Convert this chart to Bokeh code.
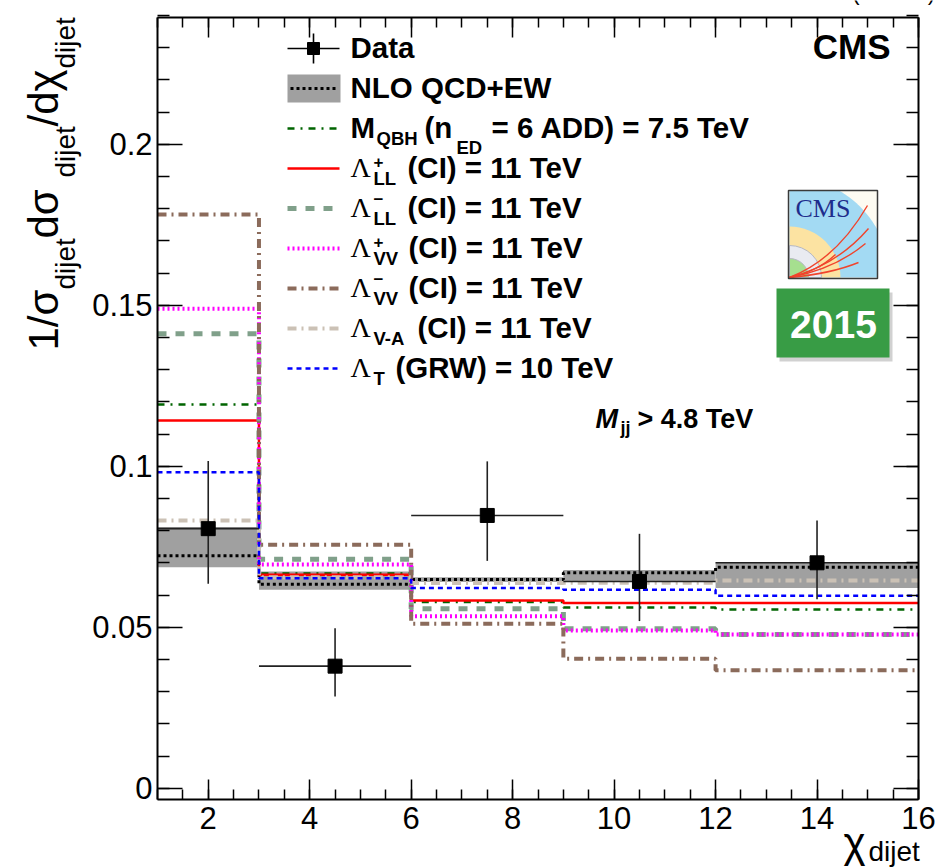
import numpy as np
from math import pi
from bokeh.plotting import figure
from bokeh.models import Range1d, FixedTicker, LinearAxis, Label
from bokeh.embed import file_html
from bokeh.resources import INLINE

# ---------------- data ----------------
bin_edges = [1, 3, 6, 9, 12, 16]
data_x = [2.0, 4.5, 7.5, 10.5, 14.0]
data_y = [0.0806, 0.0379, 0.0847, 0.0642, 0.0700]
data_up = [0.1016, 0.0497, 0.1015, 0.0790, 0.0831]
data_dn = [0.0635, 0.0285, 0.0706, 0.0519, 0.0587]

nlo_central = [0.0722, 0.0633, 0.0648, 0.0669, 0.0686]
nlo_low = [0.0686, 0.0616, 0.0640, 0.0640, 0.0622]
nlo_high = [0.0811, 0.0673, 0.0655, 0.0678, 0.0702]

qbh = [0.1192, 0.0667, 0.0578, 0.0561, 0.0555]
ll_plus = [0.1142, 0.0663, 0.0583, 0.0575, 0.0575]
ll_minus = [0.1411, 0.0711, 0.0557, 0.0495, 0.0477]
vv_plus = [0.1489, 0.0695, 0.0534, 0.0490, 0.0477]
vv_minus = [0.1782, 0.0756, 0.0511, 0.0402, 0.0366]
v_minus_a = [0.0831, 0.0655, 0.0637, 0.0638, 0.0645]
grw = [0.0981, 0.0652, 0.0622, 0.0616, 0.0598]

x_ticks = [2, 4, 6, 8, 10, 12, 14, 16]
y_ticks = [0, 0.05, 0.1, 0.15, 0.2]
y_tick_labels = ["0", "0.05", "0.1", "0.15", "0.2"]

# ---------------- layout ----------------
W, H = 936, 868
FL, FR, FT, FB = 157, 918, 17, 799          # pixel box of the axes
XMIN, XMAX = 1.0, 16.0
YZERO_PX = 787.7
PX_PER_Y = 3220.0
YMIN = -(FB - YZERO_PX) / PX_PER_Y
YMAX = (YZERO_PX - FT) / PX_PER_Y


def X(px):
    return XMIN + (px - FL) * (XMAX - XMIN) / (FR - FL)


def Y(py):
    return YMIN + (FB - py) * (YMAX - YMIN) / (FB - FT)


p = figure(width=W, height=H, output_backend="svg", toolbar_location=None,
           x_range=Range1d(X(0), X(W)), y_range=Range1d(Y(H), Y(0)),
           min_border=0, min_border_left=0, min_border_right=0,
           min_border_top=0, min_border_bottom=0)
p.background_fill_color = "white"
p.border_fill_color = "white"
p.outline_line_color = None
p.xgrid.visible = False
p.ygrid.visible = False

TICK_FONT = "Liberation Sans"
x_minor = list(np.arange(1, 16.01, 0.5))
y_minor = list(np.round(np.arange(0, 0.2401, 0.01), 3))


def style_axis(ax, maj, mnr):
    ax.major_tick_in, ax.major_tick_out = maj, 0
    ax.minor_tick_in, ax.minor_tick_out = mnr, 0
    ax.axis_line_width = 2
    ax.axis_line_color = "black"
    ax.major_tick_line_width = 1.5
    ax.minor_tick_line_width = 1.5
    ax.major_label_text_font = TICK_FONT
    ax.major_label_text_font_size = "31px"
    ax.major_label_text_color = "black"


xa = p.xaxis[0]
xa.ticker = FixedTicker(ticks=x_ticks, minor_ticks=x_minor)
xa.fixed_location = YMIN
xa.bounds = (XMIN, XMAX)
style_axis(xa, 20, 10)
xa.major_label_standoff = 7

ya = p.yaxis[0]
ya.ticker = FixedTicker(ticks=y_ticks, minor_ticks=y_minor)
ya.major_label_overrides = {t: s for t, s in zip(y_ticks, y_tick_labels)}
ya.fixed_location = XMIN
ya.bounds = (YMIN, YMAX)
style_axis(ya, 25, 12)
ya.major_label_standoff = 5

top = LinearAxis(ticker=FixedTicker(ticks=x_ticks, minor_ticks=x_minor),
                 major_label_overrides={t: "" for t in x_ticks},
                 fixed_location=YMAX, bounds=(XMIN, XMAX))
style_axis(top, 20, 10)
right = LinearAxis(ticker=FixedTicker(ticks=y_ticks, minor_ticks=y_minor),
                   major_label_overrides={t: "" for t in y_ticks},
                   fixed_location=XMAX, bounds=(YMIN, YMAX))
style_axis(right, 25, 12)
p.add_layout(top, "above")
p.add_layout(right, "right")

# ---------------- NLO band + central ----------------
p.quad(left=bin_edges[:-1], right=bin_edges[1:], bottom=nlo_low, top=nlo_high,
       fill_color="#a0a0a0", line_color=None)
p.step(x=bin_edges, y=nlo_central + [nlo_central[-1]], mode="after",
       line_color="black", line_width=3, line_dash="3 3")

# ---------------- model curves ----------------
models = [
    (qbh, dict(line_color="#006400", line_width=2.5, line_dash="7 6 2 6")),
    (ll_plus, dict(line_color="#ff0000", line_width=2.5)),
    (ll_minus, dict(line_color="#80a08a", line_width=5, line_dash="9 9")),
    (vv_plus, dict(line_color="#ff00ff", line_width=4, line_dash="2 3")),
    (vv_minus, dict(line_color="#8b6b5b", line_width=4, line_dash="9 5 2 5")),
    (v_minus_a, dict(line_color="#cbc1b5", line_width=4, line_dash="9 5 2 5")),
    (grw, dict(line_color="#0000ff", line_width=2.5, line_dash="5 4")),
]
for vals, st in models:
    p.step(x=bin_edges, y=vals + [vals[-1]], mode="after", **st)

# ---------------- data points ----------------
p.segment(x0=bin_edges[:-1], x1=bin_edges[1:], y0=data_y, y1=data_y,
          line_color="#222222", line_width=1.6)
p.segment(x0=data_x, x1=data_x, y0=data_dn, y1=data_up,
          line_color="#222222", line_width=1.6)
p.scatter(x=data_x, y=data_y, marker="square", size=14, fill_color="black", line_color="black")

# ---------------- legend ----------------
row_c = [48 + 40 * i for i in range(9)]
sx0, sx1 = X(287), X(339)
p.segment(x0=[sx0], x1=[sx1], y0=[Y(row_c[0])], y1=[Y(row_c[0])], line_color="black", line_width=1.6)
p.segment(x0=[X(313)], x1=[X(313)], y0=[Y(row_c[0] - 15)], y1=[Y(row_c[0] + 15)],
          line_color="black", line_width=1.6)
p.scatter(x=[X(313)], y=[Y(row_c[0])], marker="square", size=12, fill_color="black", line_color="black")
p.quad(left=[sx0], right=[X(340)], bottom=[Y(row_c[1] + 14)], top=[Y(row_c[1] - 14)],
       fill_color="#a0a0a0", line_color=None)
p.line(x=[X(290), X(337)], y=[Y(row_c[1])] * 2, line_color="black", line_width=3, line_dash="3 3")
for i, (vals, st) in enumerate(models):
    p.line(x=[sx0, sx1], y=[Y(row_c[i + 2])] * 2, **st)

SANS = "Liberation Sans"
SERIF = "Liberation Serif"
BASE_SHIFT = 0.36   # Bokeh draws 'alphabetic' text this many em lower than the anchor


def lab(text, px, py, size=29.5, font=SANS, style="bold", color="black", align="left", angle=0.0):
    if angle == 0.0:
        py = py - BASE_SHIFT * size
    else:
        px = px - BASE_SHIFT * size
    p.add_layout(Label(x=X(px), y=Y(py), text=text, text_font=font, text_font_size=f"{size}px",
                       text_font_style=style, text_color=color, text_align=align,
                       text_baseline="alphabetic", angle=angle, angle_units="rad"))


MAIN, SUB, SUP = 29.5, 18.5, 17
base = [r + 9.5 for r in row_c]
lab("Data", 350, base[0])
lab("NLO QCD+EW", 350, base[1])
lab("M", 350, base[2])
lab("QBH", 376, base[2] + 7, size=SUB)
lab("(n", 424, base[2])
lab("ED", 456, base[2] + 16, size=SUB)
lab("= 6 ADD) = 7.5 TeV", 491, base[2])

lam_rows = [
    (3, "+", "LL", "(CI) = 11 TeV", 407),
    (4, "\u2212", "LL", "(CI) = 11 TeV", 407),
    (5, "+", "VV", "(CI) = 11 TeV", 408),
    (6, "\u2212", "VV", "(CI) = 11 TeV", 408),
    (7, None, "V-A", "(CI) = 11 TeV", 417),
    (8, None, "T", "(GRW) = 10 TeV", 395),
]
for r, sup, sub, rest, xr in lam_rows:
    lab("\u039b", 350, base[r], size=28, font=SERIF, style="normal")
    if sup is not None:
        lab(sup, 373, base[r] - (10 if sup == "+" else 13), size=SUP)
    lab(sub, 373, base[r] + 7, size=SUB)
    lab(rest, xr, base[r])

# M_jj label
lab("M", 595, 428, size=27, style="bold italic")
lab("jj", 620, 434, size=18)
lab("> 4.8 TeV", 637, 428, size=27)

# CMS label
lab("CMS", 890, 59, size=35, align="right")

# lumi text (cut at the top of the canvas as in the reference)
lab("2.6 fb\u207b\u00b9 (13 TeV)", 935, 0, size=22, style="normal", align="right")

# axis titles
lab("\u03c7", 843, 857, size=42, style="normal")
lab("dijet", 868, 861, size=28, style="normal")

yt = [("1/\u03c3", 350, 58, 42), ("dijet", 289, 75, 28), (" d\u03c3", 238, 58, 42),
      ("dijet", 177, 75, 28), ("/d\u03c7", 126, 58, 42), ("dijet", 68, 75, 28)]
for t, ystart, xb, sz in yt:
    lab(t, xb, ystart, size=sz, style="normal", angle=pi / 2)

# ---------------- CMS logo + 2015 badge (decoration) ----------------
lx0, lx1, ly0, ly1 = 788, 877, 190, 278
cx, cy = 789, 277
p.quad(left=[X(lx0)], right=[X(lx1)], bottom=[Y(ly1)], top=[Y(ly0)], fill_color="#fdfbf2", line_color=None)
th = np.linspace(0, pi / 2, 80)
R = 100
bx = np.clip(cx + R * np.cos(th), lx0, lx1)
by = np.clip(cy - R * np.sin(th), ly0, ly1)
p.patch(x=[X(v) for v in np.concatenate([[cx], bx])], y=[Y(v) for v in np.concatenate([[cy], by])],
        fill_color="#a3daf3", line_color=None)
p.wedge(x=[X(cx)], y=[Y(cy)], radius=51, radius_units="screen", start_angle=0, end_angle=pi / 2,
        fill_color="#fce3a2", line_color=None)
p.wedge(x=[X(cx)], y=[Y(cy)], radius=32, radius_units="screen", start_angle=0, end_angle=pi / 2,
        fill_color="#e9ebf1", line_color="#b5b8c2", line_width=1)
p.wedge(x=[X(cx)], y=[Y(cy)], radius=19, radius_units="screen", start_angle=0, end_angle=pi / 2,
        fill_color="#a6df8f", line_color="#b5b8c2", line_width=1)
ends = [(867, 205), (868, 228), (865, 243), (858, 262), (835, 254)]
for ex, ey in ends:
    ctrlx = cx + 0.6 * (ex - cx)
    ctrly = cy - 0.25 * (cy - ey)
    p.quadratic(x0=[X(cx)], y0=[Y(cy)], x1=[X(ex)], y1=[Y(ey)], cx=[X(ctrlx)], cy=[Y(ctrly)],
                line_color="#f0442c", line_width=1.4)
p.quad(left=[X(lx0)], right=[X(lx1)], bottom=[Y(ly1)], top=[Y(ly0)], fill_color=None,
       line_color="#3a3a3a", line_width=1.5)
lab("CMS", 795, 217, size=26, font=SERIF, style="normal", color="#1e2d8c")

p.quad(left=[X(779)], right=[X(892)], bottom=[Y(361)], top=[Y(292)], fill_color="#9a9a9a",
       fill_alpha=0.45, line_color=None)
p.quad(left=[X(776)], right=[X(889)], bottom=[Y(357)], top=[Y(288)], fill_color="#389c45", line_color=None)
lab("2015", 833, 338, size=39, color="white", align="center")

open("out.html", "w").write(file_html(p, INLINE))
